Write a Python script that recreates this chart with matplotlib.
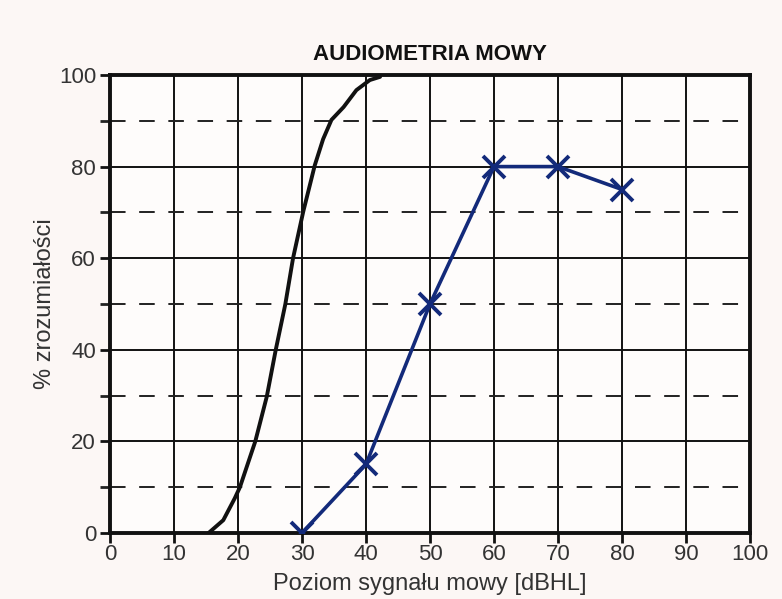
import matplotlib
matplotlib.use("Agg")
import matplotlib.pyplot as plt
from matplotlib.ticker import MultipleLocator

# Data
normal_x = [15.4, 17.7, 19.5, 20.3, 22.7, 24.5, 25.9, 27.4, 28.6, 30.2, 32.0, 33.3, 34.6, 36.5, 38.5, 40.6, 42.2]
normal_y = [0, 2.8, 7.6, 10, 20, 29.8, 40, 50, 60, 70.2, 80.3, 86, 90.2, 93, 96.7, 98.9, 99.6]
patient_x = [30, 40, 50, 60, 70, 80]
patient_y = [0, 15, 50, 80, 80, 75]
x_ticks = list(range(0, 101, 10))
y_ticks = list(range(0, 101, 20))

plt.rcParams['font.family'] = ['Liberation Sans', 'DejaVu Sans']

fig = plt.figure(figsize=(7.82, 5.99), dpi=100, facecolor='#fcf7f5')
ax = fig.add_axes([110/782, 1-533/599, 640/782, 458/599])
ax.set_facecolor('#fefcfb')

ax.set_xlim(0, 100)
ax.set_ylim(0, 100)

# grid
for xv in x_ticks[1:-1]:
    ax.axvline(xv, color='#111111', lw=1.4, zorder=1)
for yv in range(10, 100, 10):
    if yv % 20 == 0:
        ax.axhline(yv, color='#111111', lw=1.4, zorder=1)
    else:
        ax.axhline(yv, color='#222222', lw=1.4, ls=(0, (8, 7)), zorder=1)

ax.plot(normal_x, normal_y, color='#111111', lw=2.8, zorder=3,
        solid_capstyle='round', solid_joinstyle='round')
ax.plot(patient_x, patient_y, color='#132a7a', lw=2.6, marker='x', ms=16, mew=2.8, zorder=4,
        solid_joinstyle='round')

for s in ax.spines.values():
    s.set_linewidth(2.8)
    s.set_color('#111111')

ax.set_xticks(x_ticks)
ax.set_yticks(y_ticks)
ax.yaxis.set_minor_locator(MultipleLocator(10))
ax.tick_params(axis='both', which='major', direction='out', length=7, width=2, colors='#111111',
               labelsize=16, labelcolor='#333333')
ax.tick_params(axis='x', which='major', pad=1)
ax.tick_params(axis='y', which='major', pad=3)
ax.tick_params(axis='y', which='minor', direction='out', length=7, width=2, colors='#222222')

ax.set_xlabel('Poziom sygnału mowy [dBHL]', fontsize=17, color='#333333', labelpad=6)
ax.set_ylabel('% zrozumiałości', fontsize=17, color='#333333', labelpad=2)
ax.set_title('AUDIOMETRIA MOWY', fontsize=16, fontweight='bold', color='#111111', pad=11)

fig.savefig('out.png', dpi=100, facecolor=fig.get_facecolor())
